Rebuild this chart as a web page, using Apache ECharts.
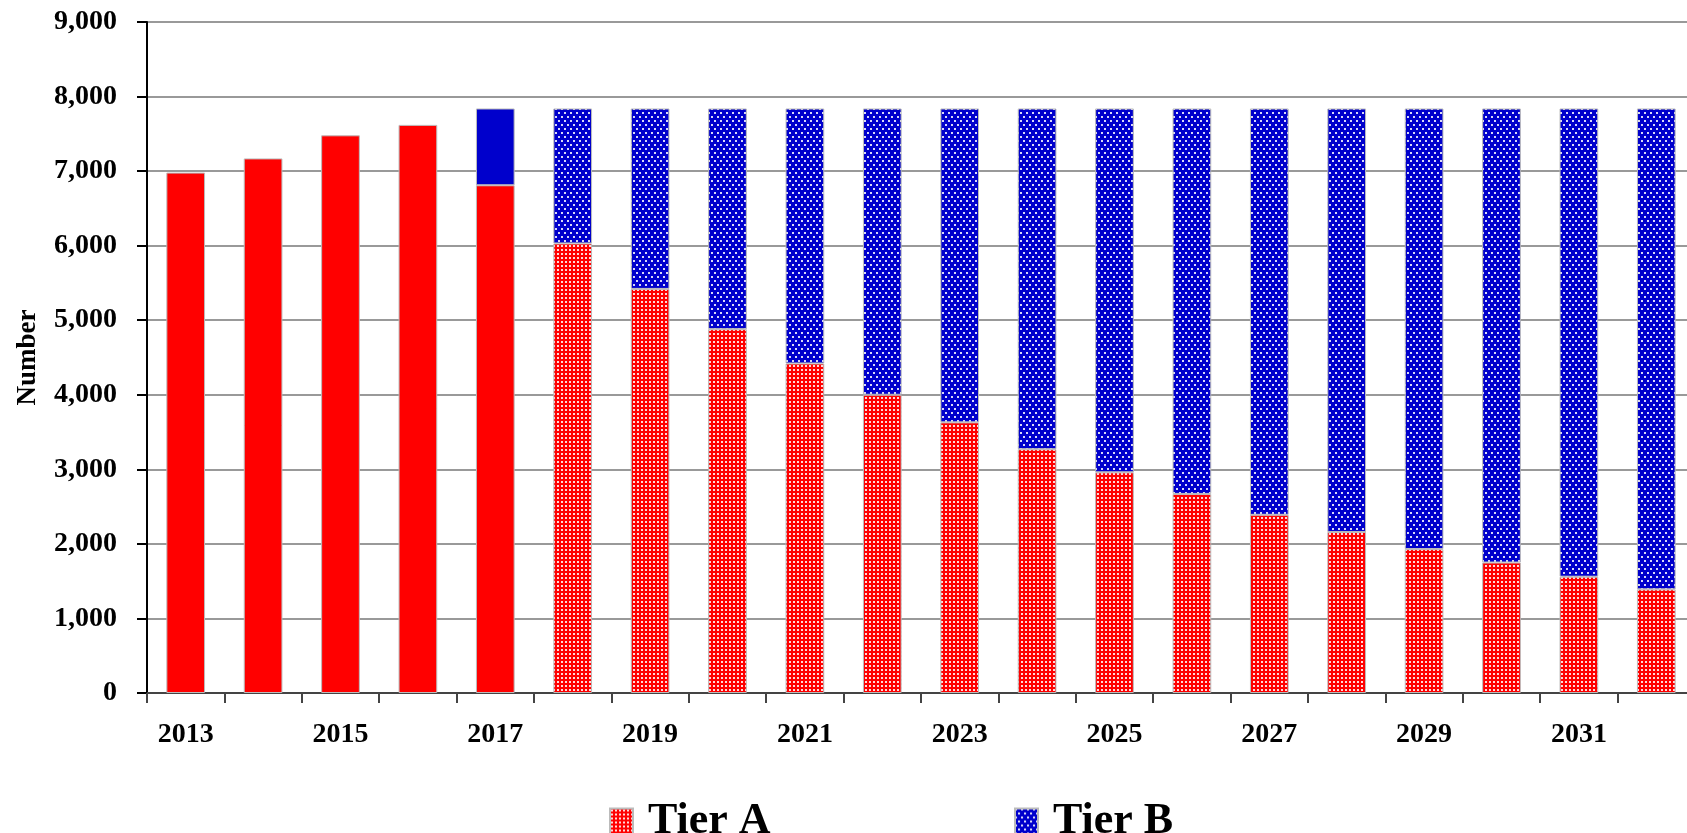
<!DOCTYPE html>
<html>
<head>
<meta charset="utf-8">
<script src="https://cdn.jsdelivr.net/npm/echarts@6/dist/echarts.min.js"></script>
<style>
  html, body { margin: 0; padding: 0; background: #fff; }
  #chart { width: 1687px; height: 833px; }
</style>
</head>
<body>
<div id="chart"></div>
<script>
// data
const years = ["2013", "2014", "2015", "2016", "2017", "2018", "2019", "2020", "2021", "2022",
  "2023", "2024", "2025", "2026", "2027", "2028", "2029", "2030", "2031", "2032"];
const tierA = [6980, 7170, 7480, 7620, 6810, 6030, 5420, 4880, 4420, 4000,
  3630, 3270, 2960, 2670, 2390, 2160, 1930, 1750, 1560, 1390];
const tierB = [null, null, null, null, 1030, 1810, 2420, 2960, 3420, 3840,
  4210, 4570, 4880, 5170, 5450, 5680, 5910, 6090, 6280, 6450];
const yTicks = [0, 1000, 2000, 3000, 4000, 5000, 6000, 7000, 8000, 9000];
const projectionStart = "2018"; // bars from here on are hatched

const RED = "#FF0000";
const BLUE = "#0000CC";
const FONT = "Liberation Serif";

// small dotted tiles for the projected years
function makePattern(bg, w, h, dots, size) {
  const c = document.createElement("canvas");
  c.width = w;
  c.height = h;
  const ctx = c.getContext("2d");
  ctx.fillStyle = bg;
  ctx.fillRect(0, 0, w, h);
  ctx.fillStyle = "rgba(255,255,255,0.85)";
  dots.forEach(function (d) {
    ctx.fillRect(d[0], d[1], size, size);
  });
  return c;
}
const redPattern = { image: makePattern(RED, 4, 4, [[1, 1]], 2), repeat: "repeat" };
const bluePattern = { image: makePattern(BLUE, 6, 8, [[0, 0], [3, 4]], 2), repeat: "repeat" };

const startIdx = years.indexOf(projectionStart);
const toItems = function (values, solid) {
  return values.map(function (v, i) {
    if (v === null) return null;
    return i < startIdx ? { value: v, itemStyle: { color: solid } } : v;
  });
};

const legendText = {
  fontFamily: FONT,
  fontSize: 44,
  fontWeight: "bold",
  color: "#000",
  padding: [0, 0, 0, 10],
};

const chart = echarts.init(document.getElementById("chart"));
chart.setOption({
  animation: false,
  textStyle: { fontFamily: FONT },
  // the plot runs a little past the right edge of the picture
  grid: { left: 147, top: 22, bottom: 140, width: 1548, outerBoundsMode: "none" },
  legend: [
    {
      data: ["Tier A"],
      left: 604,
      top: 795,
      icon: "rect",
      itemWidth: 23,
      itemHeight: 27,
      textStyle: legendText,
    },
    {
      data: ["Tier B"],
      left: 1009,
      top: 795,
      icon: "rect",
      itemWidth: 23,
      itemHeight: 27,
      textStyle: legendText,
    },
  ],
  xAxis: {
    type: "category",
    data: years,
    axisLine: { lineStyle: { color: "#444", width: 2 } },
    axisTick: { show: true, interval: 0, length: 10, lineStyle: { color: "#444", width: 2 } },
    axisLabel: {
      interval: 1,
      margin: 28,
      fontFamily: FONT,
      fontSize: 28,
      fontWeight: "bold",
      color: "#000",
    },
  },
  yAxis: {
    type: "value",
    min: yTicks[0],
    max: yTicks[yTicks.length - 1],
    interval: 1000,
    name: "Number",
    nameLocation: "middle",
    nameGap: 105,
    nameRotate: 90,
    nameTextStyle: { fontFamily: FONT, fontSize: 27, fontWeight: "bold", color: "#000" },
    axisLine: { show: true, lineStyle: { color: "#000", width: 2 } },
    axisTick: { show: true, length: 10, lineStyle: { color: "#000", width: 2 } },
    axisLabel: {
      margin: 30,
      fontFamily: FONT,
      fontSize: 28,
      fontWeight: "bold",
      color: "#000",
      formatter: function (v) {
        return v.toLocaleString("en-US");
      },
    },
    splitLine: { lineStyle: { color: "#999", width: 2 } },
  },
  series: [
    {
      name: "Tier A",
      type: "bar",
      stack: "total",
      barWidth: "50%",
      itemStyle: { color: redPattern, borderColor: "#bbb", borderWidth: 1 },
      data: toItems(tierA, RED),
    },
    {
      name: "Tier B",
      type: "bar",
      stack: "total",
      barWidth: "50%",
      itemStyle: { color: bluePattern, borderColor: "#bbb", borderWidth: 1 },
      data: toItems(tierB, BLUE),
    },
  ],
});
</script>
</body>
</html>
